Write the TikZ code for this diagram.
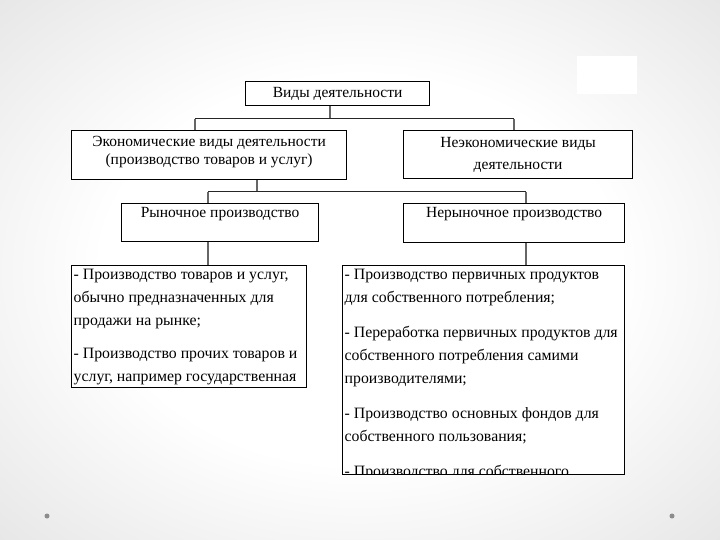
\documentclass[tikz,border=0pt]{standalone}
\usepackage{fontspec}
\setmainfont{Liberation Serif}
\usepackage{xcolor}

\pgfdeclareradialshading{slidebg}{\pgfpoint{0bp}{0bp}}{color(0bp)=(white); color(18bp)=(white); color(42bp)=(black!13); color(71bp)=(black!26)}

\begin{document}
\begin{tikzpicture}[x=1pt,y=-1pt,
  box/.style={draw,line width=1.2pt,fill=white,anchor=north west,inner sep=0pt,
    font=\fontsize{15.5}{23}\selectfont},
  listtext/.style={draw=none,fill=none,minimum width=0pt,minimum height=0pt,anchor=north west,
    align=left,inner xsep=1.5pt,inner ysep=3pt,font=\fontsize{15.8}{23}\selectfont},
  link/.style={draw=black!60,line width=2pt},
  bus/.style={draw=black!85,line width=1pt}]
  \useasboundingbox (0,0) rectangle (720,540);
  \shade[shading=slidebg] (0,0) rectangle (720,540);
  \fill[white] (577,56) rectangle (637,94);
  \fill[black!45] (47,516) circle (2.5);  \fill[black!45] (672,516) circle (2.5);

  \node[box,minimum width=184pt,minimum height=24pt] (kinds) at (245,81) {Виды деятельности};
  \node[box,minimum width=275pt,align=center,text height=34pt,text depth=15pt,
    font=\fontsize{15.5}{18}\selectfont] (econ) at (71,130)
    {Экономические виды деятельности\\(производство товаров и услуг)};
  \node[box,minimum width=229pt,minimum height=48pt,align=center] (noneco) at (403,130)
    {Неэкономические виды\\[-1pt]деятельности};
  \node[box,minimum width=197pt,text height=14pt,text depth=24pt] (market) at (121,203)
    {Рыночное производство};
  \node[box,minimum width=221pt,text height=14pt,text depth=25pt] (nonmarket) at (403,203)
    {Нерыночное производство};

  \node[box,minimum width=235pt,minimum height=122pt,path picture={
      \node[listtext] at (path picture bounding box.north west)
        {- Производство товаров и услуг,\\обычно предназначенных для\\продажи на рынке;\\[10pt]
         - Производство прочих товаров и\\услуг, например государственная};}] (marketlist) at (71,265) {};
  \node[box,minimum width=282pt,minimum height=209pt,path picture={
      \node[listtext] at (path picture bounding box.north west)
        {- Производство первичных продуктов\\для собственного потребления;\\[12pt]
         - Переработка первичных продуктов для\\собственного потребления самими\\производителями;\\[12pt]
         - Производство основных фондов для\\собственного пользования;\\[12pt]
         - Производство для собственного};}] (ownuse) at (342,265) {};

  \coordinate (drop1) at (330,119);
  \coordinate (bus1L) at (195,119);
  \coordinate (bus1R) at (514,119);
  \draw[link] (kinds.south -| drop1) -- (drop1);
  \draw[bus] (bus1L) -- (bus1R);
  \draw[link] (bus1L) -- (bus1L |- econ.north);
  \draw[link] (bus1R) -- (bus1R |- noneco.north);

  \coordinate (drop2) at (257,192);
  \coordinate (bus2L) at (208,192);
  \coordinate (bus2R) at (526,192);
  \draw[link] (econ.south -| drop2) -- (drop2);
  \draw[bus] (bus2L) -- (bus2R);
  \draw[link] (bus2L) -- (bus2L |- market.north);
  \draw[link] (bus2R) -- (bus2R |- nonmarket.north);
  \draw[link] (market.south -| bus2L) -- (marketlist.north -| bus2L);
  \draw[link] (nonmarket.south -| bus2R) -- (ownuse.north -| bus2R);
\end{tikzpicture}
\end{document}
